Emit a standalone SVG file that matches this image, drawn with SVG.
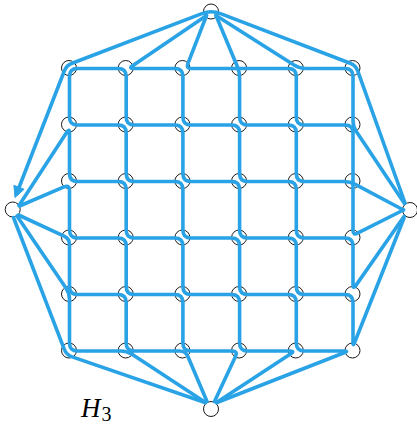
<svg xmlns="http://www.w3.org/2000/svg" width="417" height="426" viewBox="0 0 417 426">
<style>
.n{fill:#fff;stroke:#000;stroke-width:0.9}
.e{fill:none;stroke:#29A3E6;stroke-width:3.6;stroke-linecap:round;stroke-linejoin:round}
.ah{fill:#29A3E6;stroke:#29A3E6;stroke-width:1;stroke-linejoin:round}
.lbl{font-family:"Liberation Serif","Times New Roman",serif;fill:#000}
</style>
<rect width="417" height="426" fill="#fff"/>
<g id="nodes">
<g id="top"><circle class="n" cx="211" cy="11.5" r="7.5"/></g>
<g id="bottom"><circle class="n" cx="211" cy="409" r="7.5"/></g>
<g id="left"><circle class="n" cx="12.7" cy="209.5" r="7.5"/></g>
<g id="right"><circle class="n" cx="410" cy="210" r="7.5"/></g>
<g id="v00"><circle class="n" cx="69" cy="68" r="7.5"/></g>
<g id="v10"><circle class="n" cx="125.7" cy="68" r="7.5"/></g>
<g id="v20"><circle class="n" cx="182.4" cy="68" r="7.5"/></g>
<g id="v30"><circle class="n" cx="239.1" cy="68" r="7.5"/></g>
<g id="v40"><circle class="n" cx="295.8" cy="68" r="7.5"/></g>
<g id="v50"><circle class="n" cx="352.5" cy="68" r="7.5"/></g>
<g id="v01"><circle class="n" cx="69" cy="124.5" r="7.5"/></g>
<g id="v11"><circle class="n" cx="125.7" cy="124.5" r="7.5"/></g>
<g id="v21"><circle class="n" cx="182.4" cy="124.5" r="7.5"/></g>
<g id="v31"><circle class="n" cx="239.1" cy="124.5" r="7.5"/></g>
<g id="v41"><circle class="n" cx="295.8" cy="124.5" r="7.5"/></g>
<g id="v51"><circle class="n" cx="352.5" cy="124.5" r="7.5"/></g>
<g id="v02"><circle class="n" cx="69" cy="181" r="7.5"/></g>
<g id="v12"><circle class="n" cx="125.7" cy="181" r="7.5"/></g>
<g id="v22"><circle class="n" cx="182.4" cy="181" r="7.5"/></g>
<g id="v32"><circle class="n" cx="239.1" cy="181" r="7.5"/></g>
<g id="v42"><circle class="n" cx="295.8" cy="181" r="7.5"/></g>
<g id="v52"><circle class="n" cx="352.5" cy="181" r="7.5"/></g>
<g id="v03"><circle class="n" cx="69" cy="237.5" r="7.5"/></g>
<g id="v13"><circle class="n" cx="125.7" cy="237.5" r="7.5"/></g>
<g id="v23"><circle class="n" cx="182.4" cy="237.5" r="7.5"/></g>
<g id="v33"><circle class="n" cx="239.1" cy="237.5" r="7.5"/></g>
<g id="v43"><circle class="n" cx="295.8" cy="237.5" r="7.5"/></g>
<g id="v53"><circle class="n" cx="352.5" cy="237.5" r="7.5"/></g>
<g id="v04"><circle class="n" cx="69" cy="294" r="7.5"/></g>
<g id="v14"><circle class="n" cx="125.7" cy="294" r="7.5"/></g>
<g id="v24"><circle class="n" cx="182.4" cy="294" r="7.5"/></g>
<g id="v34"><circle class="n" cx="239.1" cy="294" r="7.5"/></g>
<g id="v44"><circle class="n" cx="295.8" cy="294" r="7.5"/></g>
<g id="v54"><circle class="n" cx="352.5" cy="294" r="7.5"/></g>
<g id="v05"><circle class="n" cx="69" cy="350.5" r="7.5"/></g>
<g id="v15"><circle class="n" cx="125.7" cy="350.5" r="7.5"/></g>
<g id="v25"><circle class="n" cx="182.4" cy="350.5" r="7.5"/></g>
<g id="v35"><circle class="n" cx="239.1" cy="350.5" r="7.5"/></g>
<g id="v45"><circle class="n" cx="295.8" cy="350.5" r="7.5"/></g>
<g id="v55"><circle class="n" cx="352.5" cy="350.5" r="7.5"/></g>
</g>
<g id="connectors">
<path class="e" d="M217 402.5 L344.8 352.5 Q348.5 351 344.5 351 L304.3 351 Q296.3 351 296.3 343 L296.3 302.5 Q296.3 294.5 288.3 294.5 L247.6 294.5 Q239.6 294.5 239.6 286.5 L239.6 246 Q239.6 238 231.6 238 L190.9 238 Q182.9 238 182.9 230 L182.9 189.5 Q182.9 181.5 174.9 181.5 L134.2 181.5 Q126.2 181.5 126.2 173.5 L126.2 133 Q126.2 125 118.2 125 L77.5 125 Q69.5 125 69.5 117 L69.5 76.5 Q69.5 68.5 77.5 68.5 L118.2 68.5 Q126.2 68.5 126.2 76.5 L126.2 117 Q126.2 125 134.2 125 L174.9 125 Q182.9 125 182.9 133 L182.9 173.5 Q182.9 181.5 190.9 181.5 L231.6 181.5 Q239.6 181.5 239.6 189.5 L239.6 230 Q239.6 238 247.6 238 L288.3 238 Q296.3 238 296.3 246 L296.3 286.5 Q296.3 294.5 304.3 294.5 L345 294.5 Q353 294.5 353 302.5 L353 342.5 Q353 346.5 354.5 342.8 L404 218"/>
<path class="e" d="M206.5 15.5 L132.6 65.7 Q128.5 68.5 133.5 68.5 L174.9 68.5 Q182.9 68.5 182.9 76.5 L182.9 117 Q182.9 125 190.9 125 L231.6 125 Q239.6 125 239.6 133 L239.6 173.5 Q239.6 181.5 247.6 181.5 L288.3 181.5 Q296.3 181.5 296.3 189.5 L296.3 230 Q296.3 238 304.3 238 L345 238 Q353 238 353 246 L353 284.5 Q353 289.5 355.9 285.4 L404 216.5"/>
<path class="e" d="M206.5 15.5 L187.8 63.8 Q186 68.5 191 68.5 L288.3 68.5 Q296.3 68.5 296.3 76.5 L296.3 117 Q296.3 125 304.3 125 L345 125 Q353 125 353 133 L353 230.5 Q353 235.5 357.5 233.2 L403.5 210"/>
<path class="e" d="M216 15.5 L237.3 66.5 Q239.6 72 239.6 78 L239.6 117 Q239.6 125 247.6 125 L288.3 125 Q296.3 125 296.3 133 L296.3 173.5 Q296.3 181.5 304.3 181.5 L344 181.5 Q350 181.5 355.3 184.3 L403.5 210"/>
<path class="e" d="M216 15.5 L294.4 65.3 Q299.5 68.5 305.5 68.5 L345 68.5 Q353 68.5 353 76.5 L353 120.5 Q353 126.5 356.3 131.5 L404.5 203.5"/>
<path class="e" d="M405 203 L357.8 71.1 Q355.8 65.4 350.2 63.3 L220.5 13.6 Q211.2 10 201.9 13.6 L72.1 63.3 Q66.5 65.4 64.3 71 L19 187.5"/>
<polygon class="ah" points="15,197.5 24.1,189.3 13.9,185.3"/>
<path class="e" d="M19 205.5 L66.8 132.2 Q69.5 128 69.5 133 L69.5 173.5 Q69.5 181.5 77.5 181.5 L118.2 181.5 Q126.2 181.5 126.2 189.5 L126.2 230 Q126.2 238 134.2 238 L174.9 238 Q182.9 238 182.9 246 L182.9 286.5 Q182.9 294.5 190.9 294.5 L231.6 294.5 Q239.6 294.5 239.6 302.5 L239.6 343 Q239.6 351 247.6 351 L290 351 Q295 351 290.8 353.7 L216.5 402.5"/>
<path class="e" d="M19.5 206 L64 186.9 Q69.5 184.5 69.5 190.5 L69.5 230 Q69.5 238 77.5 238 L118.2 238 Q126.2 238 126.2 246 L126.2 286.5 Q126.2 294.5 134.2 294.5 L174.9 294.5 Q182.9 294.5 182.9 302.5 L182.9 343 Q182.9 351 190.9 351 L232 351 Q238 351 235.5 356.4 L214.5 401.5"/>
<path class="e" d="M18.5 215 L64.1 236.2 Q69.5 238.7 69.5 244.7 L69.5 286.5 Q69.5 294.5 77.5 294.5 L118.2 294.5 Q126.2 294.5 126.2 302.5 L126.2 343 Q126.2 351 134.2 351 L179.5 351 Q185.5 351 187.9 356.5 L207 401.5"/>
<path class="e" d="M17 216 L66.1 288.2 Q69.5 293.2 69.5 299.2 L69.5 343 Q69.5 351 77.5 351 L121 351 Q127 351 132 354.3 L205.5 402.5"/>
<path class="e" d="M13.5 217.5 L64.3 349.4 Q66.5 355 72.2 356.9 L205 402.5"/>
</g>
<text class="lbl" x="81" y="417" font-size="27" font-style="italic">H<tspan font-size="20" font-style="normal" dx="1" dy="4">3</tspan></text>
</svg>
